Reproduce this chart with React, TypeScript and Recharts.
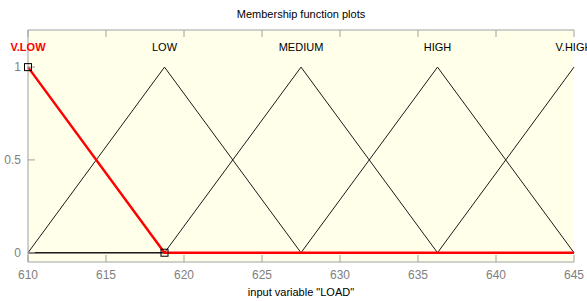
import React from "react";
import {
  LineChart,
  Line,
  XAxis,
  YAxis,
  CartesianGrid,
  ReferenceDot,
} from "recharts";

const loadPoints = [610, 618.75, 627.5, 636.25, 645];
const vLow = [1, 0, 0, 0, 0];
const low = [0, 1, 0, 0, 0];
const medium = [0, 0, 1, 0, 0];
const high = [0, 0, 0, 1, 0];
const vHigh = [0, 0, 0, 0, 1];
const mfNames = ["V.LOW", "LOW", "MEDIUM", "HIGH", "V.HIGH"];
const xTicks = [610, 615, 620, 625, 630, 635, 640, 645];
const yTicks = [0, 0.5, 1];

const data = loadPoints.map((load, i) => ({
  load,
  vlow: vLow[i],
  low: low[i],
  medium: medium[i],
  high: high[i],
  vhigh: vHigh[i],
}));

const font = "'Liberation Sans', Arial, sans-serif";
const axisGrey = "#a0a0a0";
const tickGrey = "#808080";

const SquareDot = (props: any) => {
  const { cx, cy, index } = props;
  if (index > 1) return <g key={index} />;
  return (
    <rect
      key={index}
      x={cx - 3.5}
      y={cy - 3.5}
      width={7}
      height={7}
      fill="none"
      stroke="#000"
      strokeWidth={1}
    />
  );
};

export default function App() {
  return (
    <div style={{ position: "absolute", left: 0, top: 0, background: "#fff" }}>
      <LineChart
        width={587}
        height={301}
        data={data}
        margin={{ top: 0, right: 13, bottom: 0, left: 0 }}
        style={{ fontFamily: font }}
      >
        <CartesianGrid
          horizontal={false}
          vertical={false}
          fill="#ffffea"
          fillOpacity={1}
        />
        <XAxis
          type="number"
          dataKey="load"
          domain={[610, 645]}
          ticks={xTicks}
          height={39}
          stroke={axisGrey}
          tickSize={-7}
          tickMargin={15}
          tick={{ fill: tickGrey, fontSize: 12 }}
          label={{
            value: 'input variable "LOAD"',
            position: "insideBottom",
            offset: 5,
            fill: "#000",
            fontSize: 11,
          }}
        />
        <XAxis
          xAxisId="top"
          type="number"
          dataKey="load"
          orientation="top"
          domain={[610, 645]}
          ticks={xTicks}
          height={30}
          stroke={axisGrey}
          tickSize={-7}
          tickFormatter={() => ""}
          label={{
            value: "Membership function plots",
            position: "insideTop",
            offset: 10,
            fill: "#000",
            fontSize: 11,
          }}
        />
        <YAxis
          type="number"
          domain={[-0.05, 1.2]}
          ticks={yTicks}
          width={28}
          stroke={axisGrey}
          tickSize={-7}
          tickMargin={14}
          tick={{ fill: tickGrey, fontSize: 12 }}
        />
        <YAxis
          yAxisId="right"
          orientation="right"
          type="number"
          domain={[-0.05, 1.2]}
          ticks={yTicks}
          width={0}
          stroke={axisGrey}
          tickSize={-7}
          tickFormatter={() => ""}
        />
        {["low", "medium", "high", "vhigh"].map((k) => (
          <Line
            key={k}
            type="linear"
            dataKey={k}
            stroke="#1a1a1a"
            strokeWidth={1}
            dot={false}
            isAnimationActive={false}
          />
        ))}
        <Line
          type="linear"
          dataKey="vlow"
          stroke="#ff0000"
          strokeWidth={2.5}
          dot={<SquareDot />}
          activeDot={false}
          isAnimationActive={false}
        />
        {mfNames.map((name, i) => (
          <ReferenceDot
            key={name}
            x={loadPoints[i]}
            y={1}
            r={0}
            stroke="none"
            fill="none"
            ifOverflow="visible"
            label={{
              value: name,
              position: "top",
              offset: 16,
              fill: i === 0 ? "#ff0000" : "#000",
              fontSize: 11,
              fontWeight: i === 0 ? "bold" : "normal",
            }}
          />
        ))}
      </LineChart>
    </div>
  );
}
